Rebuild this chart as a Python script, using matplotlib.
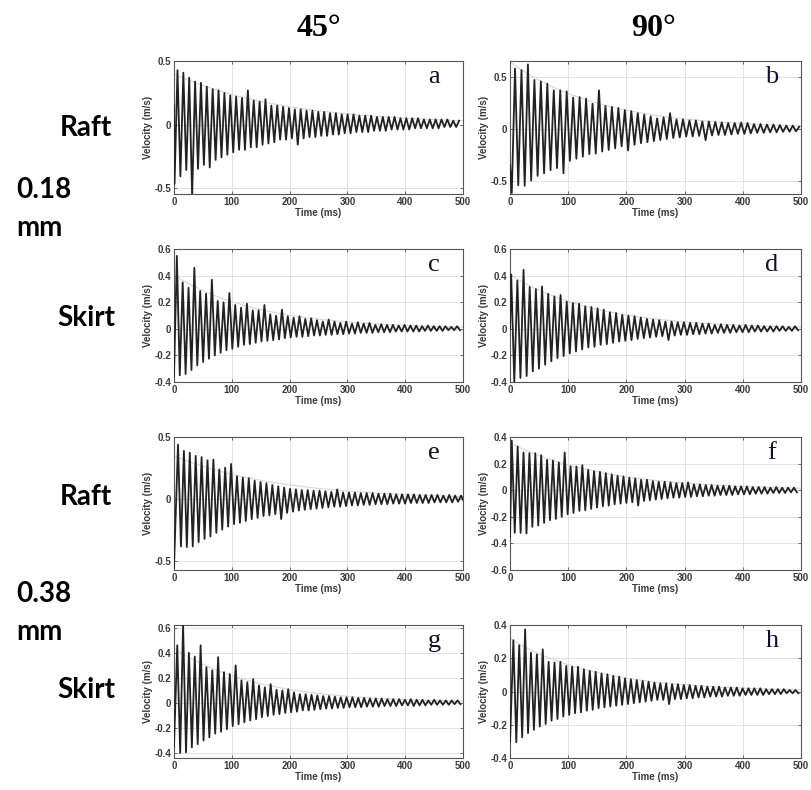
import numpy as np
import matplotlib.pyplot as plt
from matplotlib.ticker import FuncFormatter

# peak (pos) and trough (neg) velocities of each free-decay record, m/s, one per cycle
a_pos = [0.43, 0.41, 0.37, 0.34, 0.33, 0.30, 0.28, 0.27, 0.25, 0.23, 0.22, 0.21, 0.27, 0.19, 0.18, 0.20,
         0.15, 0.15, 0.14, 0.13, 0.12, 0.12, 0.11, 0.11, 0.10, 0.10, 0.09, 0.09, 0.08, 0.08, 0.08, 0.07,
         0.07, 0.07, 0.06, 0.06, 0.06, 0.06, 0.05, 0.05, 0.05, 0.05, 0.04, 0.04, 0.04, 0.04, 0.04, 0.03, 0.03]
a_neg = [-0.47, -0.41, -0.36, -0.57, -0.35, -0.32, -0.34, -0.28, -0.26, -0.24, -0.22, -0.20, -0.20, -0.18,
         -0.18, -0.16, -0.15, -0.14, -0.12, -0.12, -0.11, -0.16, -0.11, -0.10, -0.10, -0.09, -0.09, -0.08,
         -0.08, -0.07, -0.07, -0.06, -0.06, -0.06, -0.05, -0.05, -0.05, -0.04, -0.04, -0.04, -0.04, -0.03,
         -0.03, -0.03, -0.03, -0.03, -0.02, -0.02, -0.02]

b_pos = [0.58, 0.565, 0.62, 0.47, 0.455, 0.435, 0.37, 0.37, 0.36, 0.30, 0.305, 0.29, 0.24, 0.37, 0.22,
         0.21, 0.20, 0.18, 0.17, 0.15, 0.135, 0.12, 0.10, 0.11, 0.15, 0.09, 0.09, 0.08, 0.08, 0.07, 0.07,
         0.065, 0.06, 0.055, 0.055, 0.06, 0.055, 0.045, 0.045, 0.04, 0.04, 0.035, 0.03, 0.03, 0.02]
b_neg = [-0.62, -0.545, -0.55, -0.50, -0.455, -0.43, -0.40, -0.38, -0.43, -0.31, -0.29, -0.27, -0.245,
         -0.24, -0.22, -0.205, -0.19, -0.17, -0.21, -0.155, -0.14, -0.13, -0.12, -0.11, -0.10, -0.09,
         -0.085, -0.075, -0.075, -0.07, -0.11, -0.065, -0.06, -0.06, -0.055, -0.05, -0.05, -0.045, -0.04,
         -0.04, -0.035, -0.035, -0.03, -0.03, -0.025]

c_pos = [0.55, 0.35, 0.31, 0.46, 0.285, 0.265, 0.37, 0.21, 0.20, 0.27, 0.18, 0.16, 0.19, 0.14, 0.14, 0.18,
         0.11, 0.10, 0.145, 0.095, 0.085, 0.095, 0.075, 0.08, 0.065, 0.055, 0.07, 0.055, 0.045, 0.055, 0.04,
         0.05, 0.04, 0.045, 0.03, 0.035, 0.03, 0.03, 0.025, 0.03, 0.025, 0.025, 0.02, 0.025, 0.02, 0.02,
         0.02, 0.015, 0.02]
c_neg = [-0.35, -0.34, -0.31, -0.275, -0.25, -0.225, -0.20, -0.18, -0.16, -0.15, -0.135, -0.12, -0.115,
         -0.105, -0.095, -0.09, -0.085, -0.08, -0.07, -0.065, -0.06, -0.06, -0.055, -0.05, -0.05, -0.045,
         -0.045, -0.04, -0.04, -0.035, -0.035, -0.03, -0.03, -0.03, -0.025, -0.025, -0.025, -0.02, -0.02,
         -0.02, -0.02, -0.02, -0.015, -0.015, -0.015, -0.015, -0.01, -0.01, -0.01]

d_pos = [0.41, 0.365, 0.445, 0.315, 0.30, 0.32, 0.265, 0.245, 0.255, 0.205, 0.195, 0.19, 0.17, 0.165,
         0.155, 0.145, 0.125, 0.12, 0.105, 0.10, 0.095, 0.085, 0.075, 0.07, 0.065, 0.055, 0.055, 0.05, 0.05,
         0.045, 0.045, 0.04, 0.04, 0.03, 0.035, 0.03, 0.03, 0.025, 0.03, 0.025, 0.025, 0.02, 0.02, 0.02,
         0.02, 0.015, 0.02]
d_neg = [-0.40, -0.37, -0.355, -0.32, -0.30, -0.27, -0.245, -0.22, -0.205, -0.185, -0.17, -0.155, -0.14,
         -0.135, -0.12, -0.115, -0.105, -0.095, -0.09, -0.085, -0.075, -0.07, -0.065, -0.06, -0.055, -0.085,
         -0.05, -0.045, -0.045, -0.04, -0.04, -0.035, -0.035, -0.03, -0.03, -0.03, -0.025, -0.025, -0.025,
         -0.02, -0.02, -0.02, -0.02, -0.015, -0.015, -0.015, -0.01]

e_pos = [0.44, 0.39, 0.375, 0.35, 0.34, 0.315, 0.32, 0.24, 0.255, 0.285, 0.185, 0.175, 0.17, 0.15, 0.14,
         0.13, 0.115, 0.105, 0.095, 0.085, 0.08, 0.075, 0.075, 0.07, 0.07, 0.065, 0.06, 0.08, 0.055, 0.055,
         0.055, 0.05, 0.05, 0.05, 0.045, 0.045, 0.045, 0.04, 0.04, 0.04, 0.04, 0.035, 0.035, 0.035, 0.035,
         0.03, 0.035, 0.03, 0.03]
e_neg = [-0.38, -0.385, -0.38, -0.345, -0.32, -0.30, -0.27, -0.245, -0.22, -0.20, -0.19, -0.175, -0.16,
         -0.15, -0.135, -0.13, -0.12, -0.16, -0.11, -0.10, -0.09, -0.085, -0.08, -0.075, -0.07, -0.065,
         -0.06, -0.06, -0.055, -0.05, -0.05, -0.045, -0.045, -0.04, -0.04, -0.04, -0.035, -0.035, -0.035,
         -0.03, -0.03, -0.03, -0.03, -0.025, -0.025, -0.025, -0.025, -0.02, -0.02]

f_pos = [0.375, 0.33, 0.285, 0.28, 0.28, 0.265, 0.23, 0.225, 0.21, 0.285, 0.18, 0.18, 0.19, 0.155, 0.145,
         0.14, 0.13, 0.12, 0.11, 0.105, 0.095, 0.09, 0.08, 0.08, 0.07, 0.065, 0.065, 0.06, 0.055, 0.055,
         0.06, 0.045, 0.045, 0.04, 0.04, 0.035, 0.035, 0.035, 0.03, 0.03, 0.03, 0.025, 0.025, 0.025, 0.02,
         0.025, 0.02, 0.02, 0.02]
f_neg = [-0.32, -0.32, -0.325, -0.275, -0.265, -0.245, -0.225, -0.215, -0.20, -0.18, -0.17, -0.155, -0.15,
         -0.14, -0.13, -0.12, -0.115, -0.105, -0.10, -0.095, -0.09, -0.115, -0.08, -0.075, -0.07, -0.065,
         -0.06, -0.055, -0.055, -0.05, -0.05, -0.045, -0.045, -0.04, -0.04, -0.035, -0.035, -0.035, -0.03,
         -0.03, -0.03, -0.025, -0.025, -0.025, -0.02, -0.02, -0.02, -0.015, -0.015]

g_pos = [0.46, 0.62, 0.40, 0.37, 0.46, 0.285, 0.26, 0.365, 0.245, 0.23, 0.30, 0.18, 0.165, 0.19, 0.14,
         0.125, 0.15, 0.105, 0.10, 0.11, 0.085, 0.07, 0.07, 0.065, 0.06, 0.055, 0.055, 0.05, 0.045, 0.045,
         0.045, 0.04, 0.04, 0.035, 0.035, 0.035, 0.03, 0.03, 0.03, 0.025, 0.03, 0.025, 0.025, 0.02, 0.025,
         0.02, 0.02, 0.02, 0.02]
g_neg = [-0.40, -0.395, -0.355, -0.33, -0.30, -0.275, -0.245, -0.23, -0.21, -0.185, -0.17, -0.155, -0.14,
         -0.13, -0.115, -0.105, -0.095, -0.09, -0.08, -0.075, -0.07, -0.06, -0.06, -0.055, -0.05, -0.045,
         -0.045, -0.04, -0.04, -0.035, -0.035, -0.035, -0.03, -0.03, -0.03, -0.025, -0.025, -0.025, -0.02,
         -0.02, -0.025, -0.02, -0.02, -0.015, -0.015, -0.015, -0.015, -0.01, -0.01]

h_pos = [0.31, 0.28, 0.375, 0.235, 0.225, 0.255, 0.18, 0.175, 0.18, 0.155, 0.15, 0.15, 0.135, 0.125, 0.12,
         0.11, 0.105, 0.095, 0.09, 0.08, 0.075, 0.07, 0.065, 0.06, 0.055, 0.05, 0.05, 0.045, 0.045, 0.04,
         0.04, 0.035, 0.035, 0.03, 0.03, 0.03, 0.025, 0.025, 0.025, 0.02, 0.02, 0.02, 0.02, 0.015, 0.015,
         0.015, 0.015, 0.01, 0.01]
h_neg = [-0.305, -0.275, -0.25, -0.23, -0.21, -0.195, -0.175, -0.165, -0.15, -0.14, -0.13, -0.125, -0.115,
         -0.11, -0.10, -0.095, -0.09, -0.085, -0.08, -0.075, -0.07, -0.065, -0.06, -0.055, -0.05, -0.05,
         -0.075, -0.045, -0.045, -0.04, -0.04, -0.035, -0.035, -0.03, -0.03, -0.03, -0.025, -0.025, -0.025,
         -0.02, -0.02, -0.02, -0.02, -0.015, -0.015, -0.015, -0.01, -0.01, -0.01]

# start value at t=0, time of first extremum (ms), period (ms), which extremum comes first
records = {
    "a": dict(pos=a_pos, neg=a_neg, v0=0.15, t1=1.0, period=10.15, pos_first=False),
    "b": dict(pos=b_pos, neg=b_neg, v0=-0.35, t1=3.0, period=11.1, pos_first=False),
    "c": dict(pos=c_pos, neg=c_neg, v0=-0.36, t1=5.0, period=10.1, pos_first=True),
    "d": dict(pos=d_pos, neg=d_neg, v0=0.0, t1=2.0, period=10.6, pos_first=True),
    "e": dict(pos=e_pos, neg=e_neg, v0=-0.55, t1=7.0, period=10.2, pos_first=True),
    "f": dict(pos=f_pos, neg=f_neg, v0=-0.35, t1=3.0, period=10.1, pos_first=True),
    "g": dict(pos=g_pos, neg=g_neg, v0=-0.35, t1=5.7, period=10.1, pos_first=True),
    "h": dict(pos=h_pos, neg=h_neg, v0=-0.30, t1=5.7, period=10.1, pos_first=True),
}

col_titles = ["45°", "90°"]
row_names = ["Raft", "Skirt", "Raft", "Skirt"]
thickness = ["0.18", "0.38"]

# axes limits per panel
ylims = {"a": (-0.55, 0.5), "b": (-0.63, 0.65), "c": (-0.4, 0.6), "d": (-0.4, 0.6),
         "e": (-0.57, 0.5), "f": (-0.6, 0.4), "g": (-0.44, 0.62), "h": (-0.4, 0.4)}
yticks = {"a": [-0.5, 0, 0.5], "b": [-0.5, 0, 0.5],
          "c": [-0.4, -0.2, 0, 0.2, 0.4, 0.6], "d": [-0.4, -0.2, 0, 0.2, 0.4, 0.6],
          "e": [-0.5, 0, 0.5], "f": [-0.6, -0.4, -0.2, 0, 0.2, 0.4],
          "g": [-0.4, -0.2, 0, 0.2, 0.4, 0.6], "h": [-0.4, -0.2, 0, 0.2, 0.4]}


def build_trace(rec):
    first, second = (rec["pos"], rec["neg"]) if rec["pos_first"] else (rec["neg"], rec["pos"])
    vals = [rec["v0"]]
    for i in range(max(len(first), len(second))):
        if i < len(first):
            vals.append(first[i])
        if i < len(second):
            vals.append(second[i])
    times = np.concatenate([[0.0], rec["t1"] + np.arange(len(vals) - 1) * rec["period"] / 2])
    return times, np.array(vals)


def peak_fit(rec):
    # exponential decay fitted to the positive peaks
    off = 0 if rec["pos_first"] else 1
    tp = rec["t1"] + (np.arange(len(rec["pos"])) * 2 + off) * rec["period"] / 2
    k, c = np.polyfit(tp, np.log(rec["pos"]), 1)
    tt = np.linspace(0, 500, 200)
    return tt, np.exp(c + k * tt)


fmt = FuncFormatter(lambda v, _: "0" if abs(v) < 1e-9 else f"{v:g}")
tick_font = dict(family="Liberation Sans", weight="bold", size=7)

fig = plt.figure(figsize=(8.11, 7.90), dpi=100)

lefts = [0.2145, 0.6289]
widths = [0.3564, 0.3588]
bottoms = [0.7544, 0.5165, 0.2785, 0.0405]
height = 0.168
keys = [["a", "b"], ["c", "d"], ["e", "f"], ["g", "h"]]

for r in range(4):
    for c in range(2):
        key = keys[r][c]
        rec = records[key]
        ax = fig.add_axes([lefts[c], bottoms[r], widths[c], height])
        tt, env = peak_fit(rec)
        ax.plot(tt, env, color="#d8d8d8", lw=0.8, zorder=2)
        t, v = build_trace(rec)
        ax.plot(t, v, color="#222222", lw=1.3, zorder=3)
        ax.set_xlim(0, 500)
        ax.set_ylim(*ylims[key])
        ax.set_xticks([0, 100, 200, 300, 400, 500])
        ax.set_yticks(yticks[key])
        ax.yaxis.set_major_formatter(fmt)
        ax.grid(True, color="#dcdcdc", lw=0.6)
        ax.set_axisbelow(True)
        ax.tick_params(direction="in", length=2.5, width=0.6, color="#555555",
                       top=True, right=True, pad=2, labelcolor="#3a3a3a")
        for lab in ax.get_xticklabels() + ax.get_yticklabels():
            lab.set_fontproperties(tick_font)
        for sp in ax.spines.values():
            sp.set_color("#555555")
            sp.set_linewidth(0.8)
        ax.set_ylabel("Velocity (m/s)", fontsize=7, fontweight="bold",
                      family="Liberation Sans", color="#3a3a3a", labelpad=1)
        ax.set_xlabel("Time (ms)", fontsize=7, fontweight="bold",
                      family="Liberation Sans", color="#3a3a3a", labelpad=1)
        ax.text(0.90, 0.88, key, transform=ax.transAxes, ha="center", va="center",
                fontsize=19, family="Liberation Serif", color="#10102a")

# column headings
for c, title in enumerate(col_titles):
    fig.text([319 / 811, 654 / 811][c], 1 - 28 / 790, title, ha="center", va="center",
             fontsize=23, fontweight="bold", family="Liberation Serif")

# row labels on the left
row_y = [128, 318, 497, 690]
for name, y in zip(row_names, row_y):
    fig.text(86 / 811, 1 - y / 790, name, ha="center", va="center",
             fontsize=20, fontweight="bold", family="Lato")
for label, y in zip(thickness, [190, 594]):
    fig.text(16 / 811, 1 - y / 790, label, ha="left", va="center",
             fontsize=20, fontweight="bold", family="Lato")
    fig.text(16 / 811, 1 - (y + 38) / 790, "mm", ha="left", va="center",
             fontsize=20, fontweight="bold", family="Lato")

fig.savefig("out.png", dpi=100)
